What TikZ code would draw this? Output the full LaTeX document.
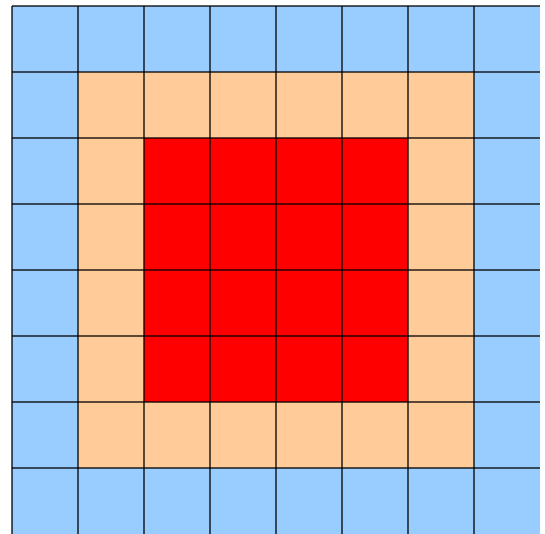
\documentclass[tikz,border=0pt]{standalone}
\usetikzlibrary{positioning}
\definecolor{ring0}{HTML}{99CCFF}
\definecolor{ring1}{HTML}{FFCC99}
\definecolor{ring2}{HTML}{FF0000}
\definecolor{ring3}{HTML}{FF0000}
\tikzset{cell/.style={draw=none},
 gridline/.style={draw=black,draw opacity=.65,line width=1.6pt}}
\begin{document}
\begin{tikzpicture}[x=1pt,y=-1pt]
\useasboundingbox (0,0) rectangle (545,534);
\foreach \i in {0,...,7}{
 \foreach \j in {0,...,7}{
  \pgfmathtruncatemacro\ring{min(\i,\j,7-\i,7-\j)}
  \fill[cell,fill=ring\ring] (12+66*\i,6+66*\j) rectangle ++(66,66);
 }}
\foreach \k in {0,...,7}{
 \draw[gridline] (12+66*\k,6)--(12+66*\k,534);
 \draw[gridline] (12,6+66*\k)--(540,6+66*\k);
}
\end{tikzpicture}
\end{document}
